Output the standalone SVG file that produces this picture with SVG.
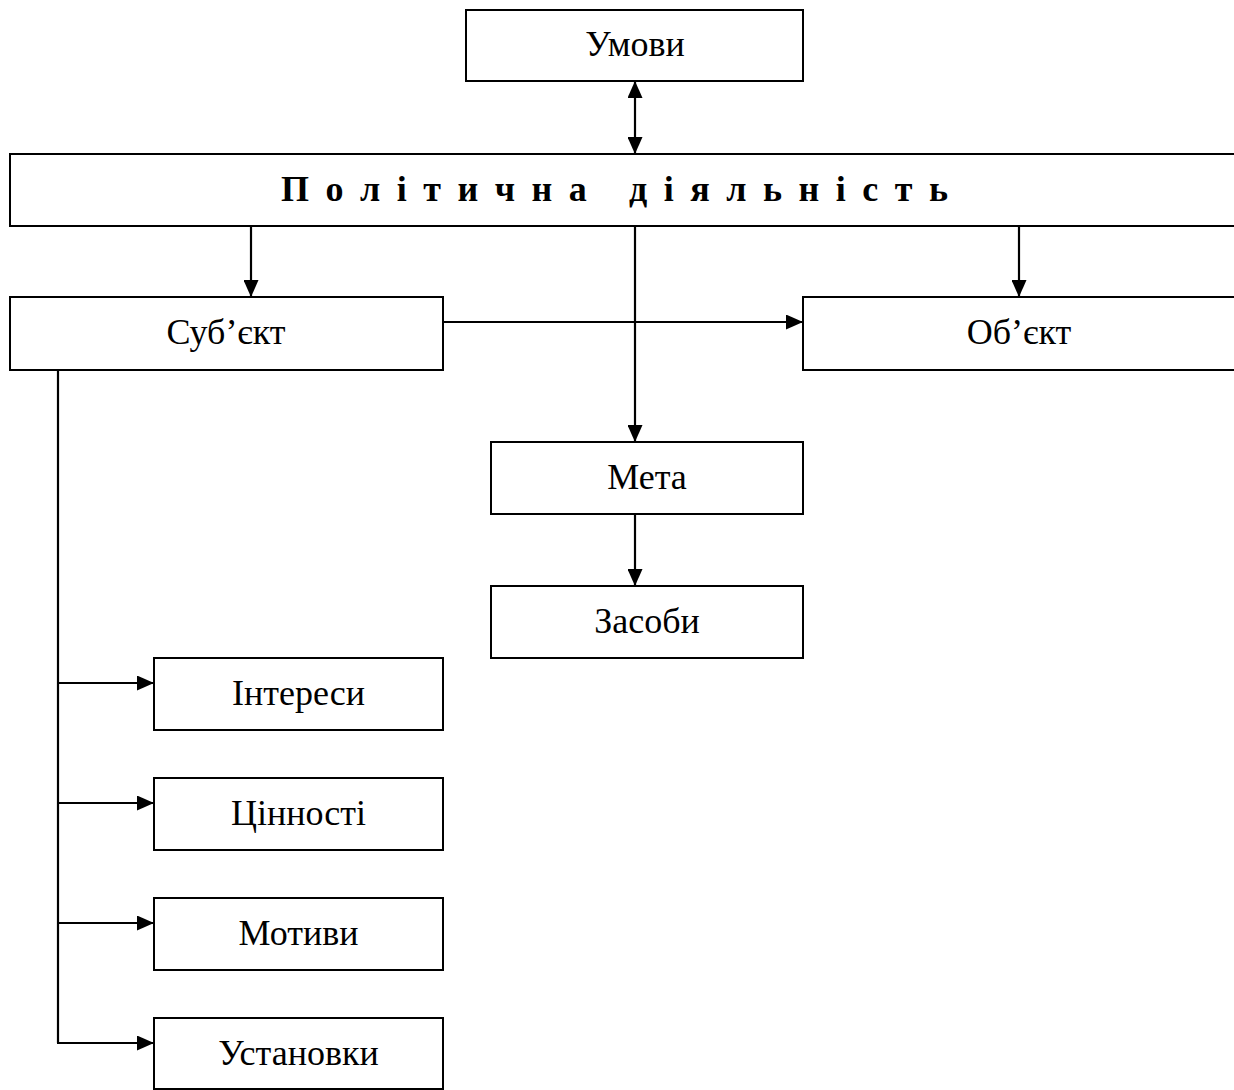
<svg xmlns="http://www.w3.org/2000/svg" width="1234" height="1090" viewBox="0 0 1234 1090">
<style>
.box{fill:#fff;stroke:#000;stroke-width:2}
.t{font-family:"Liberation Serif","Times New Roman",serif;font-size:36px;fill:#000;text-anchor:middle}
.tb{font-family:"Liberation Serif","Times New Roman",serif;font-size:36px;font-weight:bold;fill:#000;white-space:pre}
.c{stroke:#000;stroke-width:2.2;fill:none}
.a{marker-end:url(#ah)}
</style>
<defs>
<marker id="ah" markerUnits="userSpaceOnUse" markerWidth="17" markerHeight="15" refX="17" refY="7.5" orient="auto">
<path d="M0,0 L17,7.5 L0,15 z" fill="#000"/>
</marker>
<marker id="ahs" markerUnits="userSpaceOnUse" markerWidth="17" markerHeight="15" refX="17" refY="7.5" orient="auto-start-reverse">
<path d="M0,0 L17,7.5 L0,15 z" fill="#000"/>
</marker>
</defs>
<rect width="1234" height="1090" fill="#fff"/>
<g id="connectors">
<line class="c" x1="635" y1="81" x2="635" y2="154" marker-start="url(#ahs)" marker-end="url(#ahs)"/>
<line class="c a" x1="251" y1="226" x2="251" y2="297"/>
<line class="c a" x1="1019" y1="226" x2="1019" y2="297"/>
<line class="c a" x1="443" y1="322" x2="803" y2="322"/>
<line class="c a" x1="635" y1="226" x2="635" y2="442"/>
<line class="c a" x1="635" y1="514" x2="635" y2="586"/>
<line class="c" x1="58" y1="370" x2="58" y2="1043"/>
<line class="c a" x1="57" y1="683" x2="154" y2="683"/>
<line class="c a" x1="57" y1="803" x2="154" y2="803"/>
<line class="c a" x1="57" y1="923" x2="154" y2="923"/>
<line class="c a" x1="57" y1="1043" x2="154" y2="1043"/>
</g>
<g id="umovy"><rect class="box" x="466" y="10" width="337" height="71"/><text class="t" x="635" y="56">Умови</text></g>
<g id="diyalnist"><rect class="box" x="10" y="154" width="1240" height="72"/><text class="tb" x="281" y="201" textLength="667" lengthAdjust="spacing">П о л і т и ч н а   д і я л ь н і с т ь</text></g>
<g id="subiekt"><rect class="box" x="10" y="297" width="433" height="73"/><text class="t" x="226" y="344">Суб’єкт</text></g>
<g id="obiekt"><rect class="box" x="803" y="297" width="447" height="73"/><text class="t" x="1019" y="344">Об’єкт</text></g>
<g id="meta"><rect class="box" x="491" y="442" width="312" height="72"/><text class="t" x="647" y="489">Мета</text></g>
<g id="zasoby"><rect class="box" x="491" y="586" width="312" height="72"/><text class="t" x="647" y="633">Засоби</text></g>
<g id="interesy"><rect class="box" x="154" y="658" width="289" height="72"/><text class="t" x="298.5" y="705">Інтереси</text></g>
<g id="tsinnosti"><rect class="box" x="154" y="778" width="289" height="72"/><text class="t" x="298.5" y="825">Цінності</text></g>
<g id="motyvy"><rect class="box" x="154" y="898" width="289" height="72"/><text class="t" x="298.5" y="945">Мотиви</text></g>
<g id="ustanovky"><rect class="box" x="154" y="1018" width="289" height="71"/><text class="t" x="298.5" y="1065">Установки</text></g>
</svg>
